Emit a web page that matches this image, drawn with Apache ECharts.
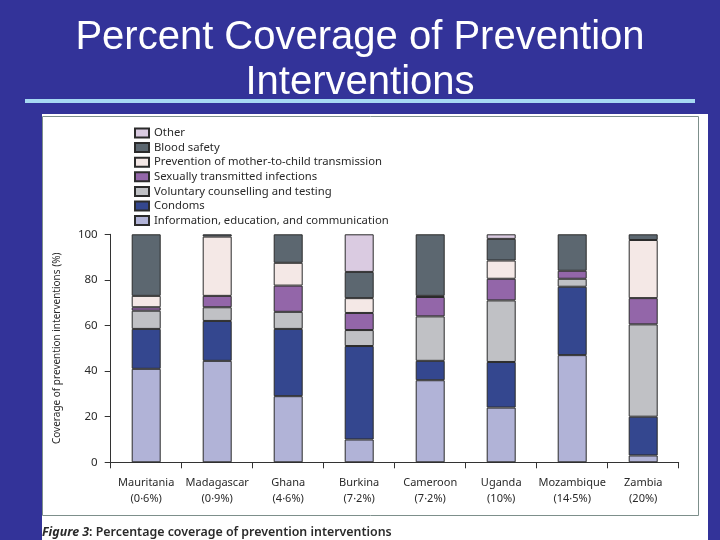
<!DOCTYPE html>
<html>
<head>
<meta charset="utf-8">
<script src="https://cdn.jsdelivr.net/npm/echarts@6/dist/echarts.min.js"></script>
<style>
html,body{margin:0;padding:0;background:#333399;}
#chart{width:720px;height:540px;}
</style>
</head>
<body>
<div id="chart"></div>
<script>
var countries = ['Mauritania', 'Madagascar', 'Ghana', 'Burkina', 'Cameroon', 'Uganda', 'Mozambique', 'Zambia'];
var prevalence = ['(0·6%)', '(0·9%)', '(4·6%)', '(7·2%)', '(7·2%)', '(10%)', '(14·5%)', '(20%)'];
var seriesNames = ['Information, education, and communication', 'Condoms', 'Voluntary counselling and testing', 'Sexually transmitted infections', 'Prevention of mother-to-child transmission', 'Blood safety', 'Other'];
var iec    = [41, 44.5, 29, 10, 36, 24, 47, 3];
var condoms= [17.5, 17.5, 29.5, 41, 8.5, 20, 30, 17];
var vct    = [8, 6, 7.5, 7, 19.5, 27, 3.5, 40.5];
var sti    = [1.5, 5, 11.5, 7.5, 8.5, 9.5, 3.5, 11.5];
var pmtct  = [5, 26, 10, 6.5, 0.5, 8, 0, 25.5];
var blood  = [27, 1, 12.5, 11.5, 27, 9.5, 16, 2.5];
var other  = [0, 0, 0, 16.5, 0, 2, 0, 0];
var yTicks = [0, 20, 40, 60, 80, 100];

var colors = ['#b1b3d7', '#34478f', '#c0c1c5', '#9366a9', '#f4e8e6', '#5c6770', '#dacbe1'];
var values = [iec, condoms, vct, sti, pmtct, blood, other];

var chart = echarts.init(document.getElementById('chart'));
var series = seriesNames.map(function (n, i) {
  return {
    name: n,
    type: 'bar',
    stack: 'total',
    barWidth: 29,
    data: values[i].map(function (v) { return v === 0 ? '-' : v; }),
    itemStyle: { color: colors[i], borderColor: '#2b2b2b', borderWidth: 1 },
    emphasis: { disabled: true }
  };
});

var font = 'Noto Sans';
chart.setOption({
  backgroundColor: '#333399',
  animation: false,
  title: {
    text: 'Percent Coverage of Prevention\nInterventions',
    left: 'center',
    top: 10,
    textStyle: { color: '#ffffff', fontFamily: 'Liberation Sans', fontWeight: 'normal', fontSize: 40, lineHeight: 45 }
  },
  graphic: [
    { type: 'rect', shape: { x: 25, y: 99, width: 670, height: 4 }, style: { fill: '#a6d9f2' }, z: 0 },
    { type: 'rect', shape: { x: 42, y: 114, width: 666, height: 426 }, style: { fill: '#ffffff' }, z: 0 },
    { type: 'rect', shape: { x: 42.5, y: 116.5, width: 656, height: 399 }, style: { fill: 'none', stroke: '#7d8f8b', lineWidth: 1 }, z: 1 },
    { type: 'text', left: 42, top: 526, z: 2,
      style: { text: '{a|Figure 3}{b|: Percentage coverage of prevention interventions}',
        rich: {
          a: { fontFamily: font, fontSize: 12.4, fontStyle: 'italic', fontWeight: 'bold', fill: '#2a2a2a' },
          b: { fontFamily: font, fontSize: 12.4, fontWeight: 600, fill: '#2a2a2a' }
        } } }
  ],
  legend: {
    orient: 'vertical',
    left: 129,
    top: 122,
    icon: 'rect',
    itemWidth: 14,
    itemHeight: 9,
    itemGap: 2.6,
    data: seriesNames.slice().reverse(),
    textStyle: { fontFamily: font, fontSize: 11.3, color: '#2a2a2a', lineHeight: 12, padding: [0, 0, 0, 0] },
    selectedMode: false
  },
  grid: { left: 110.7, right: 41.3, top: 234.3, bottom: 77.7 },
  xAxis: {
    type: 'category',
    data: countries.map(function (c, i) { return c + '\n' + prevalence[i]; }),
    axisLine: { lineStyle: { color: '#333333', width: 1 } },
    axisTick: { show: true, length: 6, lineStyle: { color: '#333333' }, inside: false },
    axisLabel: { fontFamily: font, fontSize: 11, color: '#2a2a2a', lineHeight: 16.5, margin: 12, interval: 0 }
  },
  yAxis: {
    type: 'value',
    min: 0, max: 100, interval: 20,
    name: 'Coverage of prevention interventions (%)',
    nameLocation: 'middle',
    nameGap: 49,
    nameTextStyle: { fontFamily: font, fontSize: 10, color: '#2a2a2a' },
    axisLine: { show: true, lineStyle: { color: '#333333' } },
    axisTick: { show: true, length: 6, lineStyle: { color: '#333333' } },
    splitLine: { show: false },
    axisLabel: { fontFamily: font, fontSize: 11.5, color: '#2a2a2a', margin: 13,
      formatter: function (v) { return yTicks.indexOf(v) >= 0 ? String(v) : ''; } }
  },
  series: series
});
</script>
</body>
</html>
